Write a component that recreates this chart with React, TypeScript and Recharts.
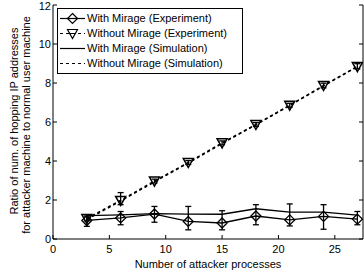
import React from "react";
import {
  ComposedChart,
  Line,
  XAxis,
  YAxis,
  ErrorBar,
  Legend,
} from "recharts";

// number of attacker processes
const processes: number[] = [3, 6, 9, 12, 15, 18, 21, 24, 27];

// with Mirage, experiment (diamonds) + error bar offsets [down, up]
const withMirageExp: number[] = [0.95, 1.08, 1.28, 0.9, 0.82, 1.18, 0.98, 1.16, 1.02];
const withMirageErrDown: number[] = [0.3, 0.35, 0.42, 0.43, 0.35, 0.45, 0.31, 0.66, 0.29];
const withMirageErrUp: number[] = [0.3, 0.33, 0.39, 0.77, 0.63, 0.58, 0.82, 0.6, 0.39];

// without Mirage, experiment (triangles)
const withoutMirageExp: number[] = [1.05, 1.98, 2.97, 3.92, 4.93, 5.87, 6.86, 7.87, 8.84];
const withoutMirageErrDown: number[] = [0.12, 0.22, 0.1, 0.1, 0.1, 0.1, 0.1, 0.12, 0.12];
const withoutMirageErrUp: number[] = [0.12, 0.4, 0.1, 0.1, 0.1, 0.1, 0.1, 0.12, 0.15];

// simulation curves
const withMirageSim: number[] = [1.2, 1.24, 1.3, 1.28, 1.27, 1.55, 1.38, 1.38, 1.22];
const withoutMirageSim: number[] = [1.0, 1.95, 2.93, 3.9, 4.9, 5.86, 6.85, 7.85, 8.85];

const xTicks: number[] = [0, 5, 10, 15, 20, 25];
const yTicks: number[] = [0, 2, 4, 6, 8, 10, 12];

const legendNames: string[] = [
  "With Mirage (Experiment)",
  "Without Mirage (Experiment)",
  "With Mirage (Simulation)",
  "Without Mirage (Simulation)",
];

const data = processes.map((x, i) => ({
  x,
  withExp: withMirageExp[i],
  withErr: [withMirageErrDown[i], withMirageErrUp[i]],
  withoutExp: withoutMirageExp[i],
  withoutErr: [withoutMirageErrDown[i], withoutMirageErrUp[i]],
  withSim: withMirageSim[i],
  withoutSim: withoutMirageSim[i],
}));

const font = "'Liberation Sans', Arial, sans-serif";
const dash = "3 3";

const diamondPath = (cx: number, cy: number, r: number) =>
  `M${cx},${cy - r}L${cx + r},${cy}L${cx},${cy + r}L${cx - r},${cy}Z`;

const trianglePath = (cx: number, cy: number, r: number) =>
  `M${cx - r},${cy - r * 0.8}L${cx + r},${cy - r * 0.8}L${cx},${cy + r}Z`;

const DiamondDot = (props: any) => {
  const { cx, cy, index } = props;
  if (cx == null || cy == null) return <g key={`d${index}`} />;
  return (
    <path key={`d${index}`} d={diamondPath(cx, cy, 5)} fill="none" stroke="#000" strokeWidth={1.3} />
  );
};

const TriangleDot = (props: any) => {
  const { cx, cy, index } = props;
  if (cx == null || cy == null) return <g key={`t${index}`} />;
  return (
    <path key={`t${index}`} d={trianglePath(cx, cy, 5)} fill="none" stroke="#000" strokeWidth={1.5} />
  );
};

const LegendBox = () => (
  <div
    style={{
      border: "1px solid #000",
      background: "#fff",
      width: 184,
      padding: "2px 0",
      fontFamily: font,
      fontSize: 11,
      lineHeight: "15px",
      color: "#000",
    }}
  >
    {legendNames.map((name, i) => (
      <div key={name} style={{ display: "flex", alignItems: "center", whiteSpace: "nowrap" }}>
        <svg width={28} height={15} style={{ flex: "none" }}>
          <line
            x1={2}
            x2={27}
            y1={7.5}
            y2={7.5}
            stroke="#000"
            strokeWidth={1.2}
            strokeDasharray={i === 1 || i === 3 ? dash : undefined}
          />
          {i === 0 && <path d={diamondPath(14.5, 7.5, 5)} fill="#fff" stroke="#000" strokeWidth={1.2} />}
          {i === 0 && <line x1={9} x2={20} y1={7.5} y2={7.5} stroke="#000" strokeWidth={1.2} />}
          {i === 1 && <path d={trianglePath(14.5, 7.5, 5)} fill="#fff" stroke="#000" strokeWidth={1.2} />}
          {i === 1 && <line x1={11} x2={18} y1={7.5} y2={7.5} stroke="#000" strokeWidth={1} />}
        </svg>
        <span style={{ marginLeft: 1 }}>{name}</span>
      </div>
    ))}
  </div>
);

const YLabel = (props: any) => {
  const vb = props.viewBox || { y: 5, height: 234 };
  const cy = vb.y + vb.height / 2;
  return (
    <g fontFamily={font} fontSize={11} fill="#000">
      <text x={14} y={cy - 1} transform={`rotate(-90 14 ${cy - 1})`} textAnchor="middle" dominantBaseline="central">
        Ratio of num. of hopping IP addresses
      </text>
      <text x={26} y={cy + 3} transform={`rotate(-90 26 ${cy + 3})`} textAnchor="middle" dominantBaseline="central">
        for attacker machine to normal user machine
      </text>
    </g>
  );
};

const App = () => {
  const tickStyle = { fill: "#000", fontSize: 11, fontFamily: font };
  return (
    <div style={{ position: "absolute", left: 0, top: 0, width: 364, height: 275, background: "#fff" }}>
      <ComposedChart
        width={364}
        height={275}
        data={data}
        margin={{ top: 5, right: 0, left: 0, bottom: 0 }}
      >
        <XAxis
          dataKey="x"
          type="number"
          domain={[0, 27.5]}
          ticks={xTicks}
          allowDataOverflow
          height={36}
          tickSize={-4}
          tickMargin={10}
          stroke="#000"
          tick={tickStyle}
          label={{
            value: "Number of attacker processes",
            position: "insideBottom",
            offset: 7,
            style: { fill: "#000", fontSize: 11, fontFamily: font },
          }}
        />
        <XAxis
          xAxisId="top"
          orientation="top"
          type="number"
          domain={[0, 27.5]}
          ticks={xTicks}
          allowDataOverflow
          height={0}
          tickSize={-4}
          tickFormatter={() => ""}
          stroke="#000"
        />
        <YAxis
          type="number"
          domain={[0, 12]}
          ticks={yTicks}
          allowDataOverflow
          width={53}
          tickSize={-4}
          tickMargin={6}
          stroke="#000"
          tick={tickStyle}
          label={<YLabel />}
        />
        <YAxis
          yAxisId="right"
          orientation="right"
          type="number"
          domain={[0, 12]}
          ticks={yTicks}
          allowDataOverflow
          width={1}
          tickSize={-4}
          tickFormatter={() => ""}
          stroke="#000"
        />
        <Legend
          layout="vertical"
          align="center"
          verticalAlign="middle"
          content={<LegendBox />}
          wrapperStyle={{ left: 57, top: 8, width: 186 }}
        />
        <Line
          dataKey="withoutSim"
          stroke="#000"
          strokeWidth={1.5}
          strokeDasharray={dash}
          dot={false}
          isAnimationActive={false}
          legendType="none"
        />
        <Line
          dataKey="withSim"
          stroke="#000"
          strokeWidth={1.3}
          dot={false}
          isAnimationActive={false}
          legendType="none"
        />
        <Line
          dataKey="withoutExp"
          stroke="#000"
          strokeWidth={1.5}
          strokeDasharray={dash}
          dot={TriangleDot}
          isAnimationActive={false}
          legendType="none"
        >
          <ErrorBar dataKey="withoutErr" width={3} stroke="#000" strokeWidth={1.3} />
        </Line>
        <Line
          dataKey="withExp"
          stroke="#000"
          strokeWidth={1.3}
          dot={DiamondDot}
          isAnimationActive={false}
          legendType="none"
        >
          <ErrorBar dataKey="withErr" width={3} stroke="#000" strokeWidth={1.3} />
        </Line>
      </ComposedChart>
    </div>
  );
};

export default App;
